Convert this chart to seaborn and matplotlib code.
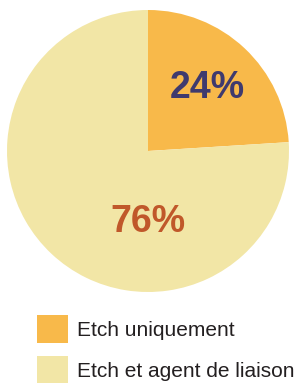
import matplotlib
matplotlib.use('Agg')
import matplotlib.pyplot as plt
import seaborn as sns

sns.set_style('white')
plt.rcParams['font.family'] = ['Liberation Sans', 'DejaVu Sans']

labels = ['Etch uniquement', 'Etch et agent de liaison']
shares = [24, 76]
colors = ['#F8B94A', '#F2E6A6']
pct_colors = ['#3F3A6E', '#C0582A']

W, H = 298, 383
fig = plt.figure(figsize=(W / 100, H / 100), dpi=100)
ax = fig.add_axes([7 / W, (H - 292) / H, 282 / W, 282 / H])

wedges, texts, autotexts = ax.pie(
    shares, colors=colors, startangle=90, counterclock=False,
    autopct='%d%%', pctdistance=0.61, radius=1.0,
    wedgeprops=dict(linewidth=0),
    textprops=dict(fontsize=27, fontweight='bold'))
for t, c in zip(autotexts, pct_colors):
    t.set_color(c)
autotexts[1].set_position((0.0, -0.50))
ax.set_xlim(-1, 1)
ax.set_ylim(-1, 1)
ax.set_aspect('equal')
ax.axis('off')

fig.legend(wedges, labels, loc='upper left', bbox_to_anchor=(37 / W, 1 - 315 / H),
           frameon=False, fontsize=15, handlelength=1.49, handleheight=1.70,
           handletextpad=0.43, labelspacing=0.62, borderpad=0, borderaxespad=0,
           labelcolor='#231F20')

fig.savefig('out.png', dpi=100)
